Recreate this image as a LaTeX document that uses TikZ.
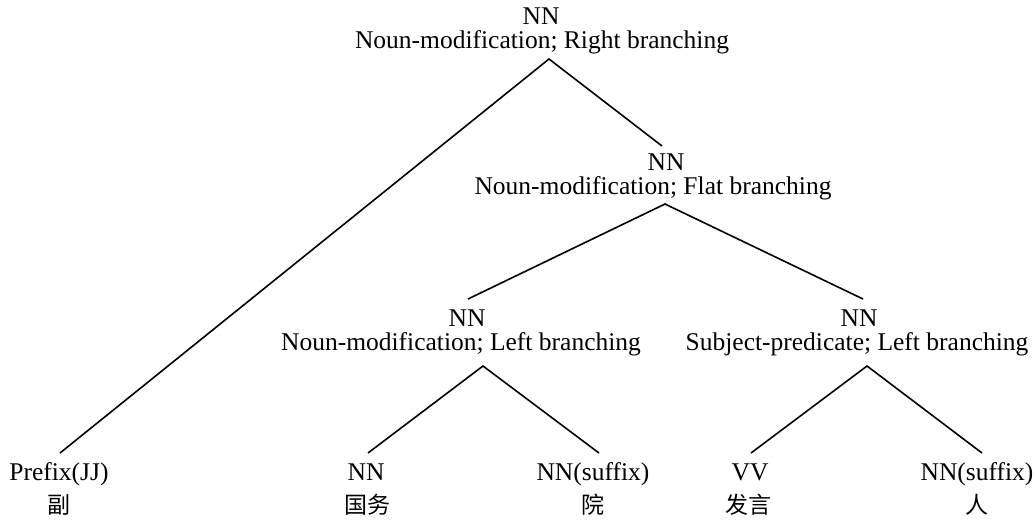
\documentclass[tikz,border=0pt]{standalone}
\usepackage{fontspec}
\setmainfont{Liberation Serif}
\newfontfamily\cjk{Noto Sans CJK SC}
\begin{document}
\begin{tikzpicture}[x=1pt,y=-1pt,
  lbl/.style={inner sep=0pt, anchor=base, font=\fontsize{25.5}{28}\selectfont},
  zh/.style={inner sep=0pt, font=\cjk\fontsize{23}{25}\selectfont},
  branch/.style={line width=1.6pt}]
\useasboundingbox (0,0) rectangle (1035,523);
% category labels
\node[lbl] (rt)  at (541,24)  {NN};
\node[lbl] (rtd) at (542,48)  {Noun-modification; Right branching};
\node[lbl] (m)   at (666,170) {NN};
\node[lbl] (md)  at (653,194) {Noun-modification; Flat branching};
\node[lbl] (l)   at (467,326) {NN};
\node[lbl] (ld)  at (461,350) {Noun-modification; Left branching};
\node[lbl] (r)   at (859,326) {NN};
\node[lbl] (rd)  at (857,350) {Subject-predicate; Left branching};
% leaves
\node[lbl] (p)  at (59,480)  {Prefix(JJ)};
\node[zh]  (pw) at (59,505)  {副};
\node[lbl] (a)  at (366,480) {NN};
\node[zh]  (aw) at (367,505) {国务};
\node[lbl] (b)  at (593,480) {NN(suffix)};
\node[zh]  (bw) at (593,505) {院};
\node[lbl] (c)  at (750,480) {VV};
\node[zh]  (cw) at (748,505) {发言};
\node[lbl] (d)  at (977,480) {NN(suffix)};
\node[zh]  (dw) at (977,505) {人};
% branch points
\coordinate (rt-s) at (549,59);
\coordinate (m-n)  at (662,146);
\coordinate (m-s)  at (665,204);
\coordinate (l-n)  at (468,299);
\coordinate (r-n)  at (863,299);
\coordinate (l-s)  at (483,366);
\coordinate (r-s)  at (867,366);
\coordinate (p-n)  at (60,453);
\coordinate (a-n)  at (368,453);
\coordinate (b-n)  at (599,453);
\coordinate (c-n)  at (751,453);
\coordinate (d-n)  at (982,453);
% branches
\draw[branch] (p-n) -- (rt-s) -- (m-n);
\draw[branch] (l-n) -- (m-s) -- (r-n);
\draw[branch] (a-n) -- (l-s) -- (b-n);
\draw[branch] (c-n) -- (r-s) -- (d-n);
\end{tikzpicture}
\end{document}
